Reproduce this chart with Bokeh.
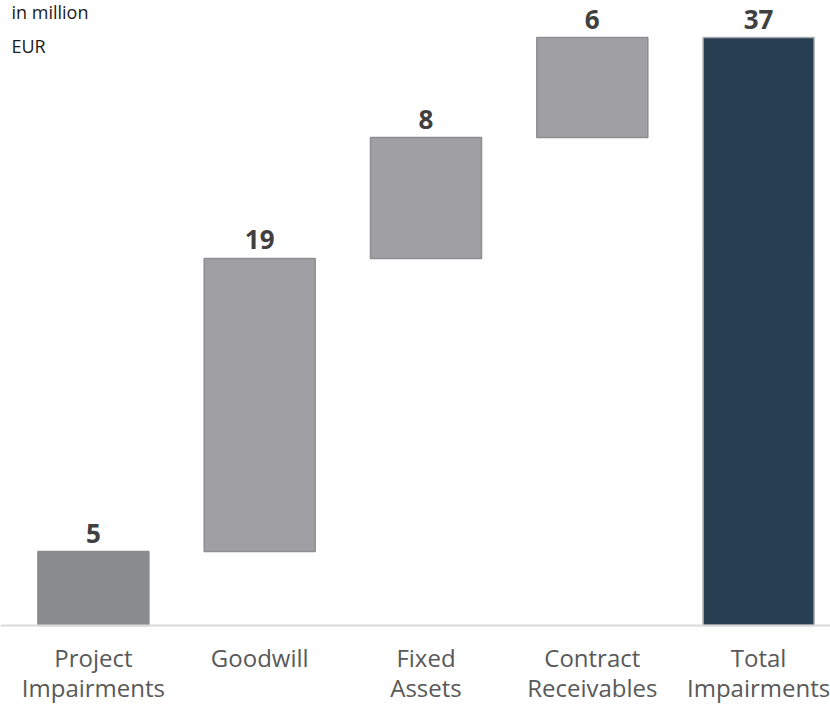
from bokeh.plotting import figure
from bokeh.models import ColumnDataSource, Label, Range1d, Span
from bokeh.core.properties import value
from bokeh.embed import file_html
from bokeh.resources import INLINE

# ---- data ----
categories = ["Project\nImpairments", "Goodwill", "Fixed\nAssets", "Contract\nReceivables", "Total\nImpairments"]
steps = [4.65, 18.45, 7.6, 6.3]           # in million EUR (bar heights)
value_labels = ["5", "19", "8", "6", "37"]
unit_text = "in million\nEUR"

# ---- build waterfall ----
bottoms, tops = [], []
running = 0.0
for v in steps:
    bottoms.append(running)
    running += v
    tops.append(running)
bottoms.append(0.0)
tops.append(running)

xs = list(range(len(categories)))
colors = ["#8a8b8d", "#a0a0a4", "#a0a0a4", "#a0a0a4", "#283e51"]
line_colors = ["#8a8b8d", "#8e8e92", "#8e8e92", "#8e8e92", "#a9adb2"]

src = ColumnDataSource(dict(x=xs, bottom=bottoms, top=tops, color=colors,
                            line_color=line_colors, label=value_labels,
                            cat=categories, zero=[0.0] * len(xs)))

W, H = 830, 704
spacing = 166.3
c0 = 92.9
x_start = (0 - c0) / spacing
x_end = (W - c0) / spacing
base_px = 625
px_per_unit = 588 / running
y_end = base_px / px_per_unit
y_start = -(H - base_px) / px_per_unit

p = figure(width=W, height=H, output_backend="svg", toolbar_location=None,
           x_range=Range1d(x_start, x_end), y_range=Range1d(y_start, y_end),
           min_border=0, x_axis_location=None, y_axis_location=None)
p.outline_line_color = None
p.xgrid.visible = False
p.ygrid.visible = False
p.background_fill_color = "white"

p.vbar(x="x", bottom="bottom", top="top", width=111 / spacing, source=src,
       fill_color="color", line_color="line_color", line_width=1.5)

# baseline (category axis line)
p.add_layout(Span(location=0, dimension="width", line_color="#d9d9d9", line_width=2))

# value labels
p.text(x="x", y="top", text="label", source=src, text_align="center",
       text_baseline="bottom", y_offset=-9, text_font=value("Open Sans"),
       text_font_size="26px", text_font_style="bold", text_color="#404040")

# category labels
p.text(x="x", y="zero", text="cat", source=src, text_align="center",
       text_baseline="top", y_offset=15, text_font=value("Open Sans"),
       text_font_size="24px", text_color="#595959", text_line_height=0.93)

p.add_layout(Label(x=x_start, y=y_end, x_offset=11, y_offset=1, text=unit_text,
                   text_baseline="top", text_font="Open Sans", text_font_size="18px",
                   text_color="#1a1a1a", text_line_height=1.45))

open("out.html", "w").write(file_html(p, INLINE))
